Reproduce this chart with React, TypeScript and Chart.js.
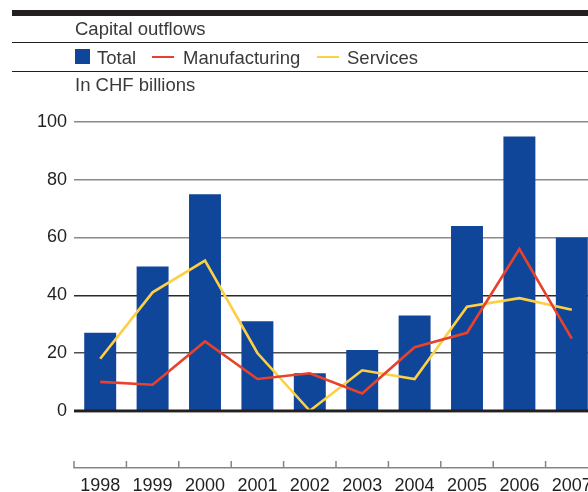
import React, { useEffect, useRef } from 'react';
import { Chart, registerables } from 'chart.js';

Chart.register(...registerables);

const years = ['1998', '1999', '2000', '2001', '2002', '2003', '2004', '2005', '2006', '2007'];
const total = [27, 50, 75, 31, 13, 21, 33, 64, 95, 60];
const manufacturing = [10, 9, 24, 11, 13, 6, 22, 27, 56, 25];
const services = [18, 41, 52, 20, 0, 14, 11, 36, 39, 35];
const yMin = -20;
const yMax = 100;
const yStep = 20;

const BLUE = '#10469a';
const RED = '#e8412c';
const YELLOW = '#fdcf45';
const DARK = '#231f20';
const FONT = "'Liberation Sans', Arial, sans-serif";

if (typeof document !== 'undefined') {
  document.body.style.margin = '0';
  document.body.style.overflow = 'hidden';
  document.body.style.background = '#ffffff';
}

const axisPlugin = {
  id: 'customAxis',
  afterDatasetsDraw(chart: any) {
    const { ctx } = chart;
    const x = chart.scales.x;
    const y = chart.scales.y;
    const y0 = y.getPixelForValue(0);
    ctx.save();
    ctx.strokeStyle = DARK;
    ctx.lineWidth = 2.5;
    ctx.beginPath();
    ctx.moveTo(x.left, y0);
    ctx.lineTo(x.right, y0);
    ctx.stroke();
    ctx.strokeStyle = '#a0a0a0';
    ctx.lineWidth = 1;
    ctx.beginPath();
    ctx.moveTo(x.left, y0 + 1.8);
    ctx.lineTo(x.right, y0 + 1.8);
    ctx.stroke();

    const yb = y.getPixelForValue(yMin);
    ctx.strokeStyle = '#858585';
    ctx.lineWidth = 1.5;
    ctx.beginPath();
    ctx.moveTo(x.left, yb - 0.75);
    ctx.lineTo(x.right, yb - 0.75);
    const n = years.length;
    const w = (x.right - x.left) / n;
    for (let i = 0; i <= n; i++) {
      const px = i < n ? x.getPixelForValue(i) - w / 2 : x.getPixelForValue(n - 1) + w / 2;
      ctx.moveTo(px, yb);
      ctx.lineTo(px, yb - 7.5);
    }
    ctx.stroke();
    ctx.restore();
  },
};

export default function App() {
  const ref = useRef<HTMLCanvasElement | null>(null);

  useEffect(() => {
    if (!ref.current) return;
    const chart = new Chart(ref.current, {
      type: 'bar',
      data: {
        labels: years,
        datasets: [
          {
            type: 'line',
            label: 'Manufacturing',
            data: manufacturing,
            borderColor: RED,
            backgroundColor: RED,
            borderWidth: 2.6,
            pointRadius: 0,
            tension: 0,
            order: 1,
          } as any,
          {
            type: 'line',
            label: 'Services',
            data: services,
            borderColor: YELLOW,
            backgroundColor: YELLOW,
            borderWidth: 2.6,
            pointRadius: 0,
            tension: 0,
            order: 2,
          } as any,
          {
            type: 'bar',
            label: 'Total',
            data: total,
            backgroundColor: BLUE,
            borderWidth: 0,
            categoryPercentage: 1,
            barPercentage: 0.61,
            order: 3,
          } as any,
        ],
      },
      options: {
        animation: false,
        responsive: false,
        devicePixelRatio: 1,
        layout: { padding: { top: 122, left: 0, right: 0, bottom: 0 } },
        plugins: {
          legend: { display: false },
          tooltip: { enabled: false },
          title: { display: false },
        },
        scales: {
          x: {
            offset: true,
            grid: { display: false },
            border: { display: false },
            ticks: {
              color: DARK,
              padding: -1,
              font: { family: FONT, size: 18 },
              maxRotation: 0,
              autoSkip: false,
            },
            afterFit: (scale: any) => {
              scale.height = 23.5;
            },
          },
          y: {
            min: yMin,
            max: yMax,
            grid: {
              drawTicks: false,
              lineWidth: 1.5,
              color: (c: any) => {
                const v = c.tick ? c.tick.value : 0;
                if (v <= 0) return 'rgba(0,0,0,0)';
                if (v >= 60) return '#8a8a8a';
                if (v === 40) return '#2b2b2b';
                return '#505050';
              },
            },
            border: { display: false },
            ticks: {
              stepSize: yStep,
              color: DARK,
              padding: 7,
              font: { family: FONT, size: 18 },
              callback: (v: any) => (Number(v) < 0 ? '' : String(v)),
            },
            afterFit: (scale: any) => {
              scale.width = 74;
            },
          },
        },
      },
      plugins: [axisPlugin],
    });
    return () => chart.destroy();
  }, []);

  const textStyle: React.CSSProperties = {
    position: 'absolute',
    fontFamily: FONT,
    fontSize: '18.5px',
    lineHeight: '20px',
    color: '#3a3a3a',
    whiteSpace: 'nowrap',
  };

  return (
    <div style={{ position: 'relative', width: 588, height: 492, overflow: 'hidden', background: '#fff' }}>
      <canvas
        ref={ref}
        width={598}
        height={492}
        style={{ position: 'absolute', left: 0, top: 0, width: 598, height: 492 }}
      />
      <div style={{ position: 'absolute', left: 12, top: 10, width: 600, height: 6, background: DARK }} />
      <div style={{ ...textStyle, left: 75, top: 18.6 }}>Capital outflows</div>
      <div style={{ position: 'absolute', left: 12, top: 42, width: 600, height: 1, background: DARK }} />
      <div style={{ position: 'absolute', left: 75, top: 49, width: 15, height: 15, background: BLUE }} />
      <div style={{ ...textStyle, left: 97, top: 47.6 }}>Total</div>
      <div style={{ position: 'absolute', left: 152, top: 55.5, width: 22, height: 2.5, background: RED }} />
      <div style={{ ...textStyle, left: 183, top: 47.6 }}>Manufacturing</div>
      <div style={{ position: 'absolute', left: 317, top: 55.5, width: 22, height: 2.5, background: YELLOW }} />
      <div style={{ ...textStyle, left: 347, top: 47.6 }}>Services</div>
      <div style={{ position: 'absolute', left: 12, top: 71, width: 600, height: 1, background: DARK }} />
      <div style={{ ...textStyle, left: 75, top: 75.3 }}>In CHF billions</div>
    </div>
  );
}
